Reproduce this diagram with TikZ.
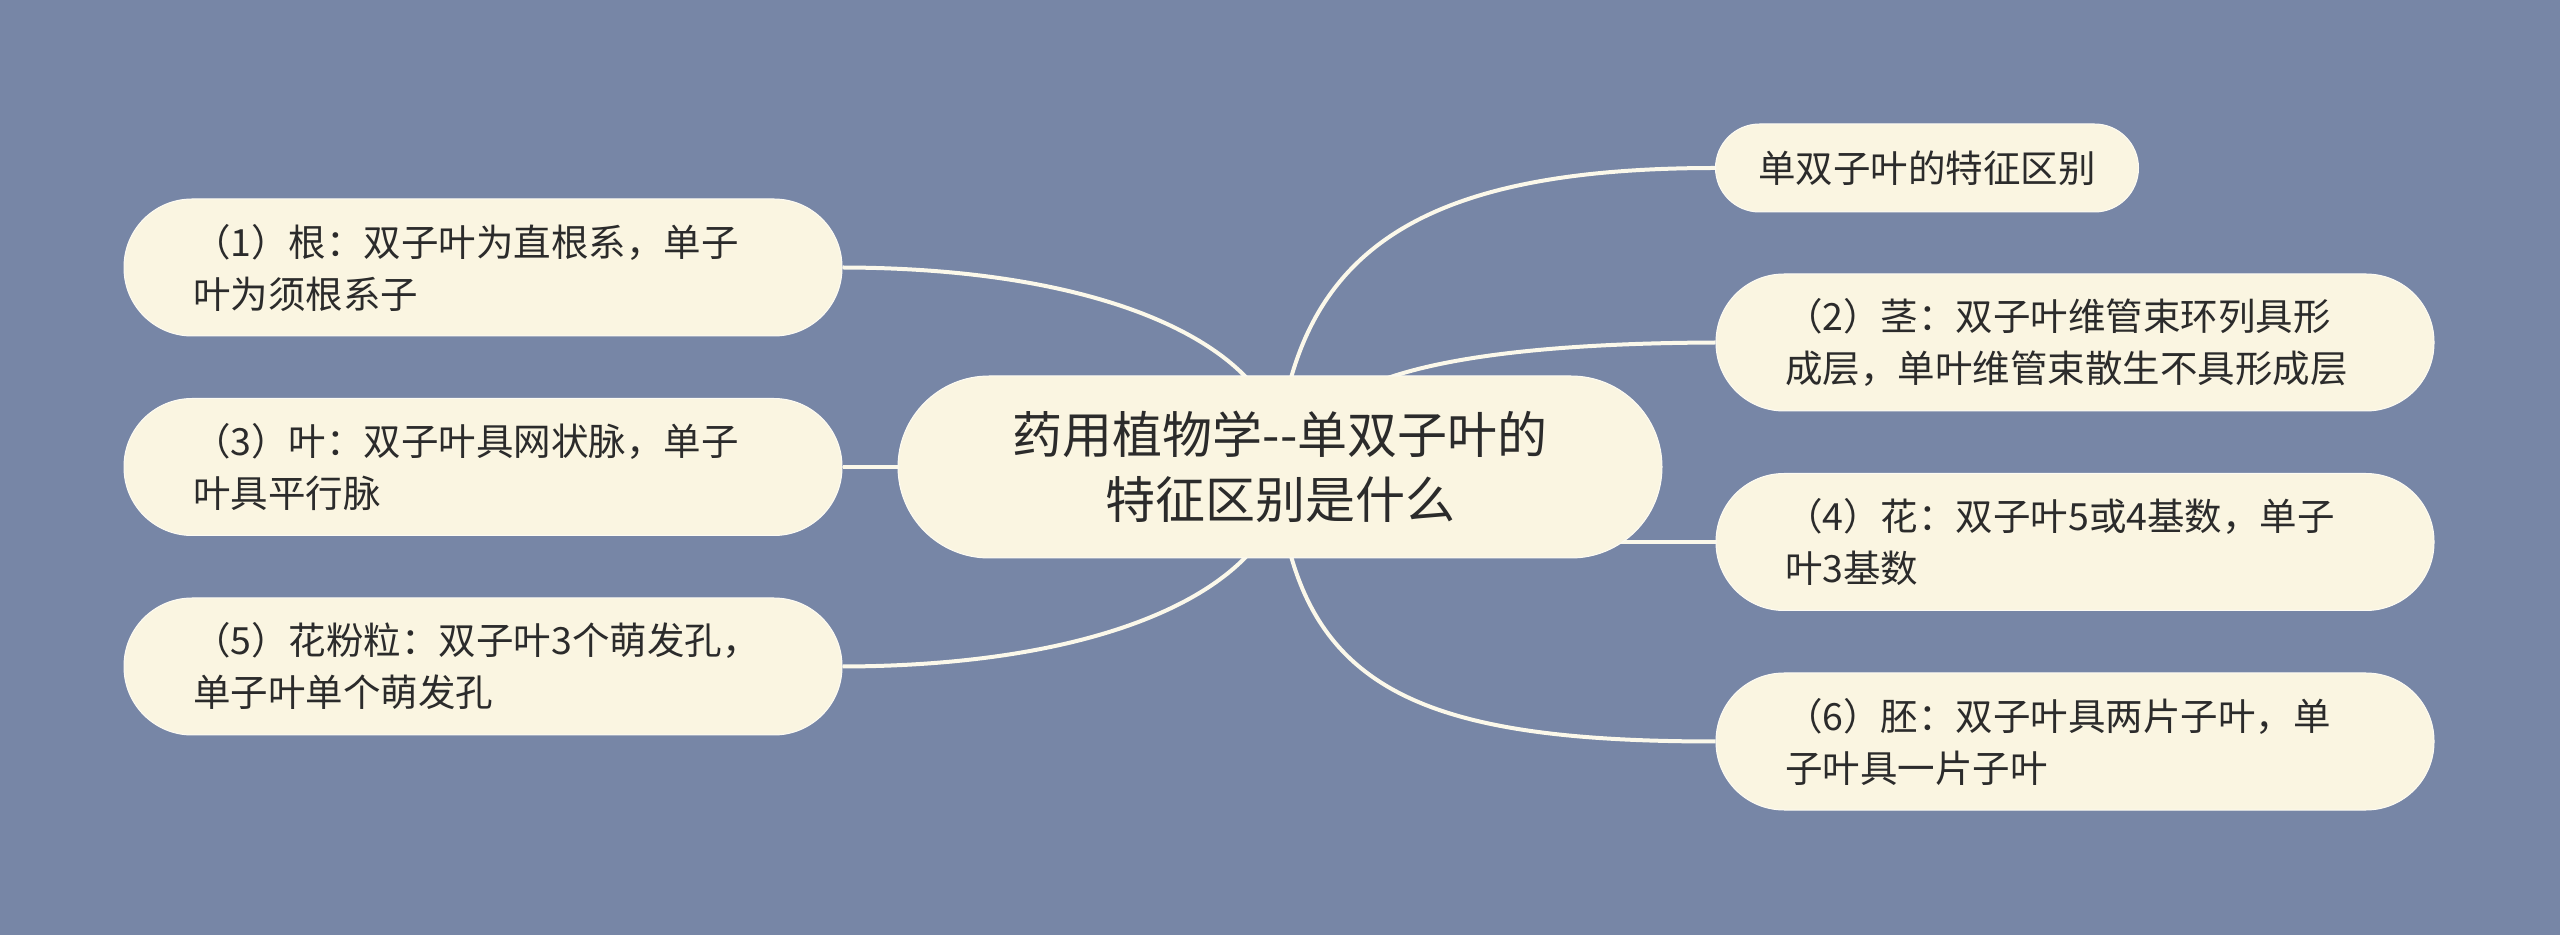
\documentclass[tikz,border=0pt]{standalone}
\usepackage{fontspec}
\newfontfamily\cjk{Noto Sans CJK SC}
\usetikzlibrary{backgrounds}
\definecolor{bgc}{HTML}{7786A6}
\definecolor{nodec}{HTML}{FAF5E1}
\definecolor{linkc}{HTML}{FBF8EA}
\definecolor{txtc}{HTML}{2B2B2B}
\tikzset{
  box/.style={draw=white!60!nodec, line width=1pt, fill=nodec, text=txtc, rounded corners=#1, inner sep=0pt},
  leaf/.style={box=68pt, minimum width=718pt, minimum height=137pt, text width=580pt, align=left,
    font=\cjk\fontsize{37.5}{52}\selectfont},
  hub/.style={box=91pt, minimum width=764pt, minimum height=182pt, align=center,
    font=\cjk\fontsize{50}{65}\selectfont},
  tag/.style={box=44pt, minimum width=423pt, minimum height=88pt, align=center,
    font=\cjk\fontsize{37.5}{52}\selectfont},
  link/.style={draw=linkc, line width=4pt},
}
\begin{document}
\begin{tikzpicture}[x=1pt,y=1pt]
\begin{pgfonlayer}{background}
  \fill[bgc] (0,0) rectangle (2560,935);
\end{pgfonlayer}
\useasboundingbox (0,0) rectangle (2560,935);

\node[hub] (c) at (1280,468) {药用植物学--单双子叶的\\特征区别是什么};
\node[tag] (tr) at (1927,767) {单双子叶的特征区别};
\node[leaf] (n2) at (2075,592.5) {（2）茎：双子叶维管束环列具形\\成层，单叶维管束散生不具形成层};
\node[leaf] (n4) at (2075,393) {（4）花：双子叶5或4基数，单子\\叶3基数};
\node[leaf] (n6) at (2075,193.5) {（6）胚：双子叶具两片子叶，单\\子叶具一片子叶};
\node[leaf] (n1) at (483,667.5) {（1）根：双子叶为直根系，单子\\叶为须根系子};
\node[leaf] (n3) at (483,468) {（3）叶：双子叶具网状脉，单子\\叶具平行脉};
\node[leaf] (n5) at (483,268.5) {（5）花粉粒：双子叶3个萌发孔，\\单子叶单个萌发孔};

\begin{pgfonlayer}{background}
  \draw[link] ([xshift=10pt,yshift=-6pt]c.north) .. controls (1330,700) and (1450,767) .. (tr.west);
  \draw[link] ([xshift=98pt,yshift=-6pt]c.north) .. controls (1460,585) and (1600,592) .. (n2.west);
  \draw[link] (n4.west) -- ([xshift=-60pt]n4.west -| c.east);
  \draw[link] ([xshift=10pt,yshift=6pt]c.south) .. controls (1330,236) and (1450,193.5) .. (n6.west);
  \draw[link] (n1.east) .. controls (1050,667) and (1190,620) .. ([xshift=-30pt,yshift=-6pt]c.north);
  \draw[link] (n3.east) -- (c.west);
  \draw[link] (n5.east) .. controls (1050,269) and (1190,316) .. ([xshift=-30pt,yshift=6pt]c.south);
\end{pgfonlayer}
\end{tikzpicture}
\end{document}
